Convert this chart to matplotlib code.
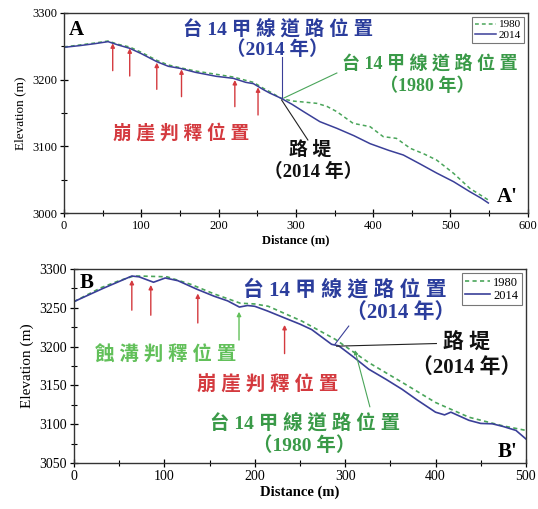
import matplotlib
matplotlib.use("Agg")
import matplotlib.pyplot as plt
from matplotlib.ticker import MultipleLocator

# ---------------- data ----------------
a_dist_2014 = [0, 20, 40, 57, 70, 85, 100, 120, 135, 150, 170, 197, 219, 235, 245, 258, 266, 281,
               295, 310, 331, 353, 375, 396, 420, 439, 460, 482, 504, 525, 540, 549]
a_elev_2014 = [3248.5, 3251, 3254, 3257, 3252, 3247, 3239, 3227, 3220, 3217, 3211, 3205, 3202, 3196,
               3194, 3185, 3180, 3172, 3163, 3152, 3137, 3127, 3116, 3104, 3094, 3087, 3074, 3060,
               3047, 3032, 3022, 3015]
a_dist_1980 = [0, 20, 40, 57, 70, 85, 100, 120, 135, 150, 170, 197, 219, 235, 245, 258, 266, 281,
               295, 305, 327, 340, 353, 374, 396, 413, 430, 448, 465, 482, 504, 525, 549]
a_elev_1980 = [3249, 3252, 3255, 3258, 3253, 3249, 3241, 3229, 3222, 3218, 3213, 3208, 3204, 3199,
               3196, 3187, 3182, 3172, 3168, 3167, 3164.5, 3160, 3152, 3134.5, 3129.5, 3114.5, 3112,
               3097, 3089, 3079.5, 3059.5, 3037, 3019.5]

b_dist_2014 = [0, 15, 32, 50, 64, 72, 88, 101, 115, 136, 155, 170, 183, 192, 200, 214, 233, 250,
               263, 285, 293, 310, 326, 345, 363, 380, 400, 410, 417, 437, 450, 463, 475, 489, 500]
b_elev_2014 = [3258, 3266, 3275, 3284, 3291, 3290, 3283, 3288.5, 3285, 3274, 3265, 3259, 3251, 3253,
               3252, 3246, 3237, 3229, 3222, 3203, 3201, 3186, 3171, 3158, 3145, 3131, 3115.5, 3112,
               3115.5, 3105, 3101, 3100.5, 3097, 3092, 3081]
b_dist_1980 = [0, 30, 50, 66, 73, 103, 130, 155, 184, 200, 215, 252, 289, 326, 363, 400, 437, 474, 500]
b_elev_1980 = [3258, 3276, 3285, 3291, 3291, 3290, 3280, 3268, 3256, 3255, 3252, 3233, 3209.5,
               3179.5, 3154, 3128, 3109, 3098, 3092]

# scarp / gully interpretation arrows: (distance, tip elevation, tail elevation)
a_scarp_dist = [63, 85, 120, 152, 221, 251]
a_scarp_tip = [3254.5, 3247, 3225.5, 3215.5, 3199.5, 3188.5]
a_scarp_tail = [3213.5, 3205.5, 3185.5, 3174.5, 3159.5, 3147]

b_scarp_dist = [64, 85, 137, 233]
b_scarp_tip = [3286, 3279.5, 3268.5, 3228]
b_scarp_tail = [3247, 3240.5, 3230.5, 3191]
b_gully_dist = [182.6]
b_gully_tip = [3245]
b_gully_tail = [3208.5]

series_labels = ["1980", "2014"]

# ---------------- style ----------------
C2014 = "#3a3f98"
C1980 = "#4aa55a"
BLUE_T = "#2b3d9c"
GREEN_T = "#3a9a48"
LGREEN_T = "#62c05a"
RED = "#d43a3f"
SERIF = ["Liberation Serif", "DejaVu Serif"]
CJK = ["Liberation Serif", "Noto Sans CJK TC", "DejaVu Sans"]

plt.rcParams["font.family"] = SERIF

fig = plt.figure(figsize=(5.38, 5.09), dpi=100)
axA = fig.add_axes([0.119, 0.5815, 0.862, 0.393])
axB = fig.add_axes([0.1375, 0.0904, 0.840, 0.381])


def style_axes(ax, xmax, ymin, ymax, ymaj, ymin_step, fs, lfs):
    ax.set_xlim(0, xmax)
    ax.set_ylim(ymin, ymax)
    ax.xaxis.set_major_locator(MultipleLocator(100))
    ax.xaxis.set_minor_locator(MultipleLocator(50))
    ax.yaxis.set_major_locator(MultipleLocator(ymaj))
    ax.yaxis.set_minor_locator(MultipleLocator(ymin_step))
    ax.tick_params(which="major", direction="inout", length=6, width=0.9, labelsize=fs, pad=2)
    ax.tick_params(which="minor", direction="inout", length=4, width=0.8)
    ax.tick_params(top=False, right=False)
    for s in ax.spines.values():
        s.set_linewidth(1.0)
        s.set_color("#333333")
    ax.set_xlabel("Distance (m)", fontsize=lfs, fontweight="bold", labelpad=2)
    ax.set_ylabel("Elevation (m)", fontsize=lfs + 0.5, labelpad=4)


def arrows(ax, xs, tips, tails, color):
    for x, t0, t1 in zip(xs, tips, tails):
        ax.annotate("", xy=(x, t0), xytext=(x, t1),
                    arrowprops=dict(arrowstyle="-|>", color=color, lw=1.0,
                                    mutation_scale=6, shrinkA=0, shrinkB=0))


def txt(ax, x, y, s, color, fs=14, weight="bold"):
    ax.text(x, y, s, color=color, fontsize=fs, fontweight=weight, family=CJK,
            ha="center", va="center")


# ---------------- panel A ----------------
axA.plot(a_dist_1980, a_elev_1980, color=C1980, ls=(0, (2.5, 2)), lw=1.1, label=series_labels[0])
axA.plot(a_dist_2014, a_elev_2014, color=C2014, lw=1.1, label=series_labels[1])
style_axes(axA, 600, 3000, 3300, 100, 50, 9, 9)
arrows(axA, a_scarp_dist, a_scarp_tip, a_scarp_tail, RED)

axA.plot([281.5, 281.5], [3234, 3172.5], color=C2014, lw=0.8)
axA.plot([284.5, 353], [3172.5, 3210], color=C1980, lw=0.8)
axA.plot([281.5, 315.5], [3169.5, 3109.5], color="#222222", lw=0.8)

axA.text(16, 3275, "A", fontsize=15, fontweight="bold", ha="center", va="center", family=SERIF)
axA.text(574, 3024, "A'", fontsize=15, fontweight="bold", ha="center", va="center", family=SERIF)
txt(axA, 277, 3274.5, "台 14 甲 線 道 路 位 置", BLUE_T, 14)
txt(axA, 276, 3244.5, "（2014 年）", BLUE_T, 14)
txt(axA, 473, 3222, "台 14 甲 線 道 路 位 置", GREEN_T, 13)
txt(axA, 470, 3189.5, "（1980 年）", GREEN_T, 13)
txt(axA, 152, 3120, "崩 崖 判 釋 位 置", RED, 13.5)
txt(axA, 318, 3094.5, "路 堤", "#111111", 13.5)
txt(axA, 322, 3062, "（2014 年）", "#111111", 13.5)

legA = axA.legend(loc="upper right", fontsize=8, frameon=True, fancybox=False,
                  handlelength=1.9, handletextpad=0.25, borderpad=0.25, labelspacing=0.1,
                  borderaxespad=0.35)
legA.get_frame().set_edgecolor("#555555")
legA.get_frame().set_linewidth(0.8)

# ---------------- panel B ----------------
axB.plot(b_dist_1980, b_elev_1980, color=C1980, ls=(0, (2.5, 2)), lw=1.2, label=series_labels[0])
axB.plot(b_dist_2014, b_elev_2014, color=C2014, lw=1.2, label=series_labels[1])
style_axes(axB, 500, 3050, 3300, 50, 25, 10, 10.5)
arrows(axB, b_scarp_dist, b_scarp_tip, b_scarp_tail, RED)
arrows(axB, b_gully_dist, b_gully_tip, b_gully_tail, LGREEN_T)

axB.plot([304, 288.7], [3226.5, 3203], color=C2014, lw=0.8)
axB.plot([290.6, 401], [3200.6, 3204], color="#222222", lw=0.8)
axB.annotate("", xy=(310.8, 3195.5), xytext=(327.4, 3122.3),
             arrowprops=dict(arrowstyle="-|>", color=C1980, lw=0.8, mutation_scale=6,
                             shrinkA=0, shrinkB=0))

axB.text(14, 3282, "B", fontsize=15, fontweight="bold", ha="center", va="center", family=SERIF)
axB.text(480, 3064, "B'", fontsize=15, fontweight="bold", ha="center", va="center", family=SERIF)
txt(axB, 300, 3273, "台 14 甲 線 道 路 位 置", BLUE_T, 15)
txt(axB, 361.5, 3243, "（2014 年）", BLUE_T, 15)
txt(axB, 434, 3204.5, "路 堤", "#111111", 15)
txt(axB, 435, 3172, "（2014 年）", "#111111", 15)
txt(axB, 102, 3189, "蝕 溝 判 釋 位 置", LGREEN_T, 14)
txt(axB, 214, 3150, "崩 崖 判 釋 位 置", RED, 14)
txt(axB, 255.5, 3101, "台 14 甲 線 道 路 位 置", GREEN_T, 14)
txt(axB, 254.5, 3073, "（1980 年）", GREEN_T, 14)

legB = axB.legend(loc="upper right", fontsize=9, frameon=True, fancybox=False,
                  handlelength=2.0, handletextpad=0.25, borderpad=0.25, labelspacing=0.1,
                  borderaxespad=0.35)
legB.get_frame().set_edgecolor("#555555")
legB.get_frame().set_linewidth(0.8)

fig.savefig("out.png", dpi=100)
